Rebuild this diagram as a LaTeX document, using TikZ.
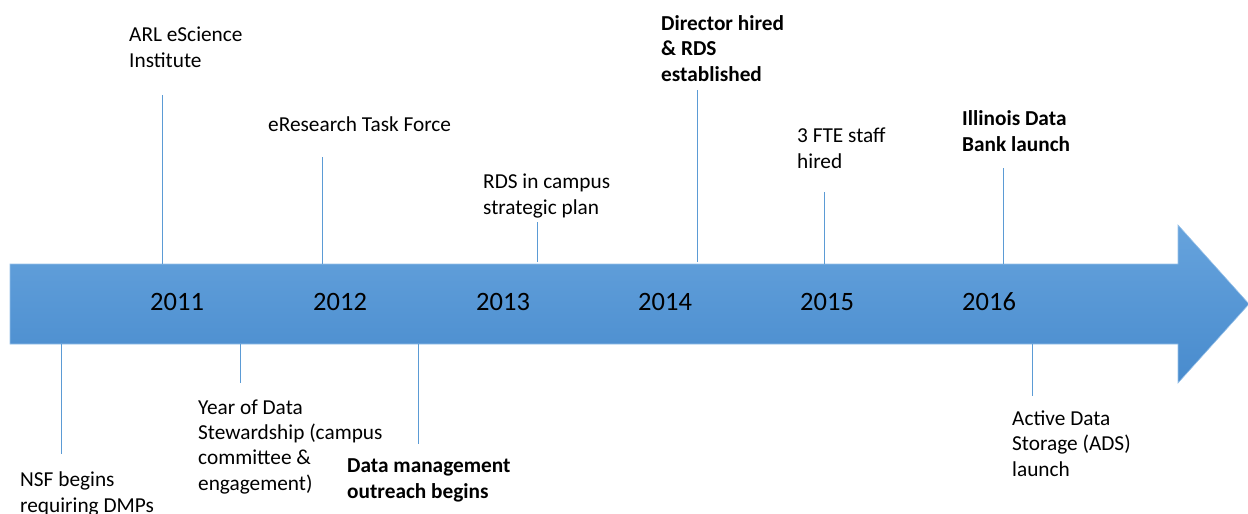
\documentclass[tikz,border=0pt]{standalone}
\usepackage{fontspec}
\setmainfont{Carlito}
\definecolor{bandtop}{RGB}{102,163,221}
\definecolor{bandbot}{RGB}{72,139,205}
\definecolor{bandedge}{RGB}{150,192,232}
\definecolor{ticky}{RGB}{91,155,213}

\begin{document}
\begin{tikzpicture}[x=1pt, y=-1pt,
      every node/.style = {inner sep=0pt, align=left, anchor=base west,
        font=\fontsize{21.3}{25.2}\selectfont},
      key/.style = {font=\fontsize{21.3}{25.2}\selectfont\bfseries},
      year/.style = {font=\fontsize{26.5}{30}\selectfont},
      tick/.style = {draw=ticky, line width=0.8pt}]
      \useasboundingbox (0,0) rectangle (1248,514);
      % the band
      \path[draw=bandedge, line width=0.6pt, top color=bandtop, bottom color=bandbot]
        (10,264) -- (1178,264) -- (1178,225) -- (1249,304) -- (1178,383)
        -- (1178,344) -- (10,344) -- cycle;
      \node[year] (y11) at (150,310) {2011};
      \node[year] (y12) at (313,310) {2012};
      \node[year] (y13) at (476,310) {2013};
      \node[year] (y14) at (638,310) {2014};
      \node[year] (y15) at (800,310) {2015};
      \node[year] (y16) at (962,310) {2016};
      % above the band (base = last line)
      \node (arl) at (129,67) {ARL eScience\\Institute};
      \node (task) at (268,131) {eResearch Task Force};
      \node (plan) at (483,214) {RDS in campus\\strategic plan};
      \node[key] (dir) at (661,81) {Director hired\\\& RDS\\established};
      \node (fte) at (797,168) {3 FTE staff\\hired};
      \node[key] (bank) at (962,151) {Illinois Data\\Bank launch};
      % below the band
      \node (nsf) at (20,512) {NSF begins\\requiring DMPs};
      \node (steward) at (198,490) {Year of Data\\Stewardship (campus\\committee \&\\engagement)};
      \node[key] (outreach) at (347,498) {Data management\\outreach begins};
      \node (ads) at (1012,476) {Active Data\\Storage (ADS)\\launch};
      % ticks
      \coordinate (a1) at (162,264);  \coordinate (a1e) at (162,95);
      \coordinate (a2) at (322,264);  \coordinate (a2e) at (322,157);
      \coordinate (a3) at (537,262);  \coordinate (a3e) at (537,222);
      \coordinate (a4) at (697,262);  \coordinate (a4e) at (697,90);
      \coordinate (a5) at (824,264);  \coordinate (a5e) at (824,192);
      \coordinate (a6) at (1003,264); \coordinate (a6e) at (1003,168);
      \coordinate (b1) at (61,344);   \coordinate (b1e) at (61,454);
      \coordinate (b2) at (240,344);  \coordinate (b2e) at (240,383);
      \coordinate (b3) at (418,344);  \coordinate (b3e) at (418,444);
      \coordinate (b4) at (1032,344); \coordinate (b4e) at (1032,396);
      \draw[tick] (a1) -- (a1e);
      \draw[tick] (a2) -- (a2e);
      \draw[tick] (a3) -- (a3e);
      \draw[tick] (a4) -- (a4e);
      \draw[tick] (a5) -- (a5e);
      \draw[tick] (a6) -- (a6e);
      \draw[tick] (b1) -- (b1e);
      \draw[tick] (b2) -- (b2e);
      \draw[tick] (b3) -- (b3e);
      \draw[tick] (b4) -- (b4e);
  \end{tikzpicture}
\end{document}
